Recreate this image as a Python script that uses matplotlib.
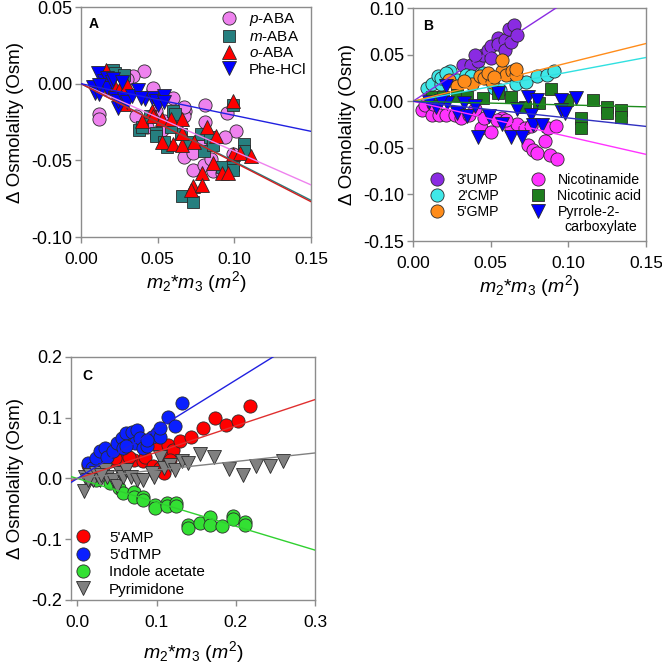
import matplotlib
matplotlib.use("Agg")
import matplotlib.pyplot as plt
import numpy as np
from matplotlib.ticker import FormatStrFormatter

plt.rcParams['font.family'] = ['Liberation Sans', 'DejaVu Sans']
plt.rcParams['mathtext.fontset'] = 'custom'
plt.rcParams['mathtext.rm'] = 'Liberation Sans'
plt.rcParams['mathtext.it'] = 'Liberation Sans:italic'
plt.rcParams['axes.unicode_minus'] = False

# ---- panel A data ----
pABA_x = [0.012, 0.012, 0.041, 0.034, 0.036, 0.047, 0.049, 0.060, 0.068, 0.067, 0.081, 0.095, 0.101,
          0.081, 0.067, 0.073, 0.073, 0.080, 0.085, 0.086, 0.092, 0.094, 0.099, 0.043, 0.054, 0.078,
          0.053, 0.047, 0.067, 0.030, 0.020]
pABA_y = [-0.020, -0.023, 0.008, 0.005, -0.021, -0.004, -0.018, -0.009, -0.018, -0.021, -0.014, -0.019, -0.031,
          -0.025, -0.048, -0.045, -0.056, -0.053, -0.049, -0.057, -0.058, -0.035, -0.046, -0.028, -0.024, -0.037,
          -0.030, -0.003, -0.015, 0.003, 0.006]
mABA_x = [0.021, 0.022, 0.028, 0.038, 0.040, 0.049, 0.049, 0.056, 0.060, 0.061, 0.065, 0.069, 0.078,
          0.080, 0.084, 0.086, 0.066, 0.073, 0.092, 0.099, 0.099, 0.106, 0.106, 0.099, 0.045, 0.059, 0.054]
mABA_y = [0.009, 0.007, 0.006, -0.030, -0.028, -0.032, -0.034, -0.041, -0.018, -0.020, -0.033, -0.038, -0.033,
          -0.044, -0.035, -0.040, -0.073, -0.077, -0.054, -0.053, -0.056, -0.039, -0.044, -0.014, -0.021, -0.028, -0.038]
oABA_x = [0.016, 0.019, 0.022, 0.025, 0.030, 0.028, 0.040, 0.046, 0.047, 0.053, 0.053, 0.059, 0.060,
          0.066, 0.066, 0.066, 0.074, 0.082, 0.088, 0.086, 0.079, 0.073, 0.072, 0.079, 0.092, 0.096,
          0.099, 0.104, 0.111, 0.099]
oABA_y = [0.009, -0.003, -0.002, -0.004, -0.001, -0.013, -0.024, -0.018, -0.021, -0.023, -0.038, -0.023, -0.039,
          -0.023, -0.040, -0.032, -0.038, -0.028, -0.034, -0.052, -0.058, -0.067, -0.069, -0.066, -0.058, -0.058,
          -0.046, -0.045, -0.047, -0.011]
phe_x = [0.011, 0.008, 0.009, 0.012, 0.015, 0.017, 0.017, 0.020, 0.022, 0.021, 0.024, 0.024, 0.028,
         0.030, 0.033, 0.037, 0.042, 0.046, 0.049, 0.050, 0.054, 0.054, 0.012, 0.027, 0.039]
phe_y = [0.007, -0.002, -0.006, -0.007, 0.002, 0.004, -0.003, 0.001, -0.009, 0.003, -0.016, -0.011, -0.010,
         -0.012, -0.008, -0.004, -0.010, -0.009, -0.011, -0.014, -0.008, -0.012, -0.001, 0.001, -0.009]
slopes_A = [-0.44, -0.507, -0.513, -0.207]

# ---- panel B data ----
ump_x = [0.032, 0.037, 0.042, 0.045, 0.048, 0.050, 0.055, 0.055, 0.059, 0.059, 0.063, 0.062, 0.065, 0.067, 0.050, 0.040]
ump_y = [0.039, 0.039, 0.043, 0.050, 0.055, 0.059, 0.068, 0.061, 0.066, 0.055, 0.064, 0.077, 0.082, 0.071, 0.046, 0.050]
cmp_x = [0.009, 0.012, 0.016, 0.018, 0.024, 0.028, 0.034, 0.037, 0.066, 0.073, 0.080, 0.086, 0.091,
         0.018, 0.052, 0.056, 0.021, 0.045]
cmp_y = [0.014, 0.018, 0.027, 0.019, 0.032, 0.023, 0.028, 0.027, 0.019, 0.021, 0.027, 0.028, 0.032,
         0.025, 0.014, 0.012, 0.030, 0.030]
gmp_x = [0.023, 0.028, 0.038, 0.043, 0.046, 0.051, 0.057, 0.057, 0.060, 0.064, 0.066, 0.066, 0.048, 0.033, 0.052]
gmp_y = [0.023, 0.016, 0.019, 0.027, 0.025, 0.021, 0.032, 0.044, 0.028, 0.032, 0.028, 0.035, 0.030, 0.022, 0.026]
nam_x = [0.006, 0.008, 0.012, 0.017, 0.021, 0.027, 0.031, 0.036, 0.044, 0.050, 0.046, 0.057, 0.063, 0.067,
         0.072, 0.076, 0.087, 0.092, 0.074, 0.077, 0.080, 0.085, 0.088, 0.093, 0.040, 0.054, 0.060, 0.013]
nam_y = [-0.009, -0.004, -0.015, -0.015, -0.015, -0.015, -0.018, -0.015, -0.029, -0.033, -0.018, -0.018, -0.029, -0.024,
         -0.029, -0.027, -0.029, -0.027, -0.047, -0.052, -0.056, -0.043, -0.058, -0.062, -0.008, -0.020, -0.020, -0.003]
nac_x = [0.012, 0.019, 0.028, 0.035, 0.045, 0.055, 0.063, 0.072, 0.081, 0.089, 0.099, 0.108, 0.108,
         0.116, 0.125, 0.125, 0.134, 0.134]
nac_y = [0.005, 0.005, 0.007, 0.005, 0.003, 0.009, 0.005, -0.006, -0.002, 0.013, 0.001, -0.018, -0.029,
         0.001, -0.006, -0.013, -0.009, -0.017]
pyr_x = [0.015, 0.021, 0.022, 0.028, 0.035, 0.042, 0.049, 0.055, 0.057, 0.063, 0.070, 0.067, 0.074,
         0.076, 0.080, 0.077, 0.083, 0.095, 0.095, 0.098, 0.105, 0.033, 0.040, 0.018, 0.010]
pyr_y = [-0.006, 0.016, -0.002, -0.013, -0.016, -0.038, -0.016, 0.009, -0.024, -0.038, -0.038, -0.008, 0.005,
         -0.015, 0.001, -0.026, -0.026, 0.001, -0.009, -0.013, 0.003, -0.002, -0.005, 0.000, -0.001]
slopes_B = [1.087, 0.313, 0.413, -0.38, -0.04, -0.18]

# ---- panel C data ----
amp_x = [0.014, 0.029, 0.041, 0.056, 0.071, 0.083, 0.085, 0.100, 0.096, 0.104, 0.113, 0.115, 0.121,
         0.130, 0.144, 0.159, 0.174, 0.188, 0.203, 0.218, 0.024, 0.117, 0.109, 0.065, 0.048]
amp_y = [0.023, 0.028, 0.028, 0.028, 0.031, 0.028, 0.036, 0.055, 0.020, 0.017, 0.039, 0.055, 0.047,
         0.061, 0.068, 0.083, 0.099, 0.088, 0.094, 0.119, 0.020, 0.031, 0.009, 0.035, 0.033]
dtmp_x = [0.013, 0.018, 0.024, 0.029, 0.035, 0.037, 0.045, 0.050, 0.056, 0.058, 0.062, 0.069, 0.075,
          0.073, 0.079, 0.083, 0.088, 0.094, 0.100, 0.104, 0.104, 0.115, 0.123, 0.132, 0.062, 0.088]
dtmp_y = [0.026, 0.017, 0.034, 0.045, 0.050, 0.036, 0.045, 0.058, 0.066, 0.050, 0.075, 0.077, 0.080,
          0.058, 0.066, 0.050, 0.053, 0.069, 0.075, 0.069, 0.083, 0.102, 0.086, 0.125, 0.053, 0.064]
ind_x = [0.024, 0.041, 0.052, 0.058, 0.071, 0.071, 0.083, 0.083, 0.098, 0.098, 0.113, 0.113, 0.125, 0.125,
         0.140, 0.140, 0.155, 0.167, 0.167, 0.182, 0.197, 0.197, 0.212, 0.212]
ind_y = [-0.002, -0.008, -0.016, -0.024, -0.023, -0.030, -0.030, -0.035, -0.043, -0.049, -0.041, -0.046, -0.041, -0.046,
         -0.076, -0.082, -0.073, -0.063, -0.076, -0.079, -0.062, -0.067, -0.071, -0.076]
pym_x = [0.008, 0.010, 0.016, 0.020, 0.024, 0.028, 0.035, 0.037, 0.045, 0.050, 0.054, 0.058, 0.062, 0.068,
         0.075, 0.083, 0.094, 0.104, 0.109, 0.117, 0.123, 0.132, 0.140, 0.155, 0.172, 0.191, 0.209, 0.226,
         0.243, 0.260, 0.014, 0.030, 0.097]
pym_y = [-0.020, 0.003, 0.006, -0.002, 0.009, -0.002, 0.014, 0.003, -0.002, -0.013, 0.009, 0.003, 0.014, 0.002,
         -0.002, -0.002, 0.009, 0.036, 0.017, 0.023, 0.014, 0.028, 0.025, 0.041, 0.036, 0.015, 0.006, 0.021,
         0.021, 0.029, -0.002, 0.006, 0.003]
slopes_C = [0.433, 0.81, -0.393, 0.14]

EC = '#2a2a2a'
SPINE = '#8c8c8c'
LFS = 11

fig = plt.figure(figsize=(6.62, 6.66), dpi=100)


def style_axes(ax, xlim, ylim, xticks, yticks, fmt_x, fmt_y, letter, lpos, xlpad=1.5):
    ax.set_xlim(*xlim)
    ax.set_ylim(*ylim)
    ax.set_xticks(xticks)
    ax.set_yticks(yticks)
    ax.xaxis.set_major_formatter(FormatStrFormatter(fmt_x))
    ax.yaxis.set_major_formatter(FormatStrFormatter(fmt_y))
    for s in ax.spines.values():
        s.set_color(SPINE)
        s.set_linewidth(1.0)
    ax.tick_params(direction='out', length=4, width=1, color=SPINE)
    ax.tick_params(axis='x', labelsize=12.5, pad=6.5)
    ax.tick_params(axis='y', labelsize=13, pad=2.5)
    ax.set_xlabel(r'$\mathit{m}_{\mathrm{2}}$*$\mathit{m}_{\mathrm{3}}$ ($\mathit{m}^{\mathrm{2}}$)',
                  fontsize=14, labelpad=xlpad)
    ax.set_ylabel('\u0394 Osmolality (Osm)', fontsize=13.5, labelpad=5)
    ax.text(lpos[0], lpos[1], letter, transform=ax.transAxes, fontsize=10, fontweight='bold', va='center')


def scatter(ax, x, y, marker, color, label, ms=9.5):
    return ax.plot(x, y, ls='none', marker=marker, ms=ms, mfc=color, mec=EC, mew=0.6, label=label)[0]


def fitline(ax, slope, color):
    xs = np.array(ax.get_xlim())
    ax.plot(xs, slope * xs, color=color, lw=1.0, zorder=5)


# Panel A
axA = fig.add_axes([0.1224, 0.6441, 0.3474, 0.3453])
style_axes(axA, (0, 0.15), (-0.10, 0.05), [0, 0.05, 0.10, 0.15], [-0.10, -0.05, 0.0, 0.05], '%.2f', '%.2f',
           'A', (0.035, 0.925))
hA = [scatter(axA, pABA_x, pABA_y, 'o', '#ee82ee', r'$\mathit{p}$-ABA'),
      scatter(axA, mABA_x, mABA_y, 's', '#267f7f', r'$\mathit{m}$-ABA', 9),
      scatter(axA, oABA_x, oABA_y, '^', '#ff0000', r'$\mathit{o}$-ABA', 10.5),
      scatter(axA, phe_x, phe_y, 'v', '#0000ff', 'Phe-HCl', 10.5)]
for s, c in zip(slopes_A, ['#ee82ee', '#267f7f', '#d02020', '#2020e0']):
    fitline(axA, s, c)
axA.legend(handles=hA, loc='upper left', bbox_to_anchor=(0.562, 1.03), frameon=False, fontsize=LFS,
           handlelength=1.0, handletextpad=0.85, labelspacing=0.15, borderpad=0.2)

# Panel B
axB = fig.add_axes([0.6239, 0.6381, 0.352, 0.3498])
style_axes(axB, (0, 0.15), (-0.15, 0.10), [0, 0.05, 0.10, 0.15], [-0.15, -0.10, -0.05, 0.0, 0.05, 0.10],
           '%.2f', '%.2f', 'B', (0.045, 0.925))
hB = [scatter(axB, ump_x, ump_y, 'o', '#8a2be2', "3'UMP"),
      scatter(axB, cmp_x, cmp_y, 'o', '#40e8e8', "2'CMP"),
      scatter(axB, gmp_x, gmp_y, 'o', '#ff8c1a', "5'GMP"),
      scatter(axB, nam_x, nam_y, 'o', '#ff33ff', 'Nicotinamide'),
      scatter(axB, nac_x, nac_y, 's', '#1e7d1e', 'Nicotinic acid', 9),
      scatter(axB, pyr_x, pyr_y, 'v', '#0000ff', 'Pyrrole-2-', 10.5)]
for s, c in zip(slopes_B, ['#8a2be2', '#30e0e0', '#ff8c1a', '#ff33ff', '#1e8c1e', '#3030c0']):
    fitline(axB, s, c)
axB.legend(handles=hB, loc='upper left', bbox_to_anchor=(0.03, 0.336), ncol=2, frameon=False,
           fontsize=10.2, handlelength=1.0, handletextpad=0.9, labelspacing=0.15, borderpad=0.2,
           columnspacing=2.2)
axB.text(0.650, 0.062, 'carboxylate', transform=axB.transAxes, fontsize=10.2, va='center')

# Panel C
axC = fig.add_axes([0.1073, 0.0991, 0.3686, 0.3649])
style_axes(axC, (-0.008, 0.3), (-0.2, 0.2), [0, 0.1, 0.2, 0.3], [-0.2, -0.1, 0.0, 0.1, 0.2], '%.1f', '%.1f',
           'C', (0.045, 0.92), xlpad=7)
hC = [scatter(axC, amp_x, amp_y, 'o', '#ff0000', "5'AMP"),
      scatter(axC, dtmp_x, dtmp_y, 'o', '#0a1fff', "5'dTMP"),
      scatter(axC, ind_x, ind_y, 'o', '#33e033', 'Indole acetate'),
      scatter(axC, pym_x, pym_y, 'v', '#808080', 'Pyrimidone', 10.5)]
for s, c in zip(slopes_C, ['#e03030', '#2020e0', '#30d030', '#808080']):
    fitline(axC, s, c)
axC.legend(handles=hC, loc='lower left', bbox_to_anchor=(-0.025, -0.03), frameon=False, fontsize=LFS,
           handlelength=1.0, handletextpad=1.2, labelspacing=0.22, borderpad=0.2)

fig.savefig('out.png', dpi=100)
